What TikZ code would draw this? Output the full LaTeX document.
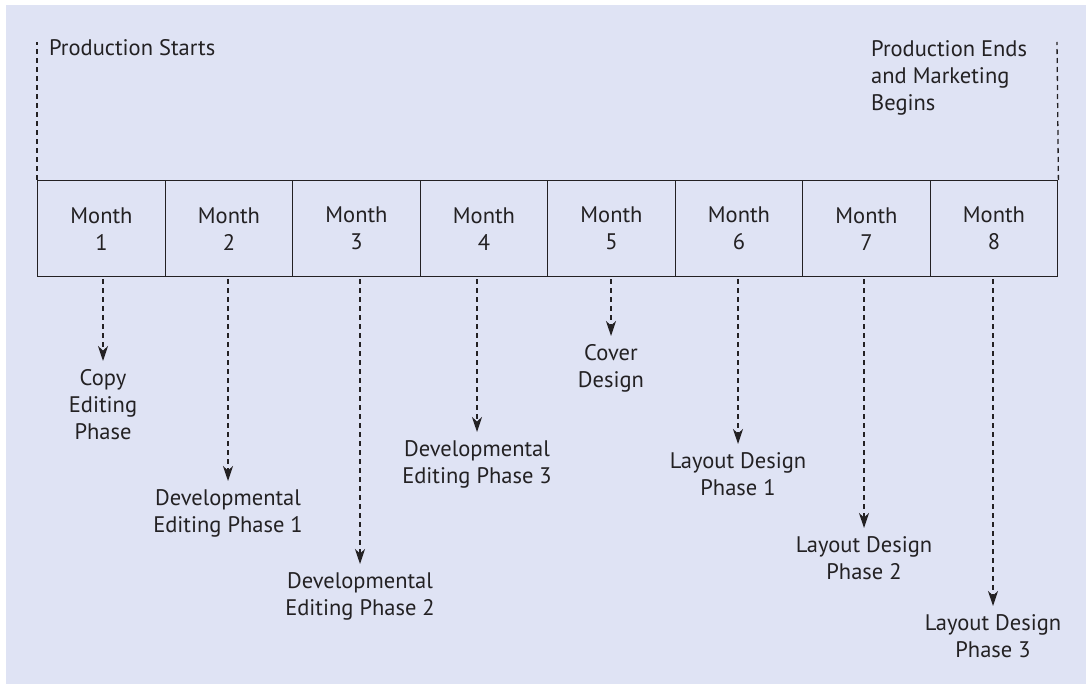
\documentclass[tikz,border=0pt]{standalone}
\usepackage{fontspec}
\setmainfont{PT Sans}
\usetikzlibrary{arrows.meta}
\definecolor{bg}{RGB}{223,227,244}
\definecolor{ink}{RGB}{35,33,35}
\begin{document}
\begin{tikzpicture}[x=1pt,y=-1pt,
  txt/.style={font=\fontsize{22.5}{27}\selectfont, text=ink, inner sep=0pt, align=center},
  cell/.style={draw=ink, line width=1.4pt, minimum width=127.5pt, minimum height=96pt,
               inner sep=0pt, anchor=north west, txt},
  guide/.style={draw=ink, line width=1.3pt, dash pattern=on 5pt off 4pt},
  flow/.style={guide, -{Stealth[length=15pt,width=10pt,inset=4.5pt]},
               shorten <=2pt, shorten >=8pt},
]
\useasboundingbox (0,0) rectangle (1086,684);
\fill[bg] (6,5) rectangle (1086,684);

% the eight months of the schedule
\foreach \i in {1,...,8}
  \node[cell] (m\i) at ({37+127.5*(\i-1)},180) {Month\\\i};

% start and end markers
\coordinate (startTop) at (37,42);
\coordinate (endTop) at (1057,42);
\draw[guide] (m1.north west) -- (startTop);
\draw[guide] (m8.north east) -- (endTop);
\node[txt, anchor=base west] (ps) at (49,55.5) {Production Starts};
\node[txt, anchor=north west, align=left] (pe) at (871,40)
  {Production Ends\\and Marketing\\Begins};

% tasks per month
\node[txt, anchor=north] (t1) at (103,369) {Copy\\Editing\\Phase};
\node[txt, anchor=north] (t2) at (228,489) {Developmental\\Editing Phase 1};
\node[txt, anchor=north] (t3) at (360,572) {Developmental\\Editing Phase 2};
\node[txt, anchor=north] (t4) at (477,440) {Developmental\\Editing Phase 3};
\node[txt, anchor=north] (t5) at (611,344) {Cover\\Design};
\node[txt, anchor=north] (t6) at (738,452) {Layout Design\\Phase 1};
\node[txt, anchor=north] (t7) at (864,536) {Layout Design\\Phase 2};
\node[txt, anchor=north] (t8) at (993,614) {Layout Design\\Phase 3};

\foreach \i in {1,...,8}
  \draw[flow] (t\i.north |- m\i.south) -- (t\i.north);
\end{tikzpicture}
\end{document}
